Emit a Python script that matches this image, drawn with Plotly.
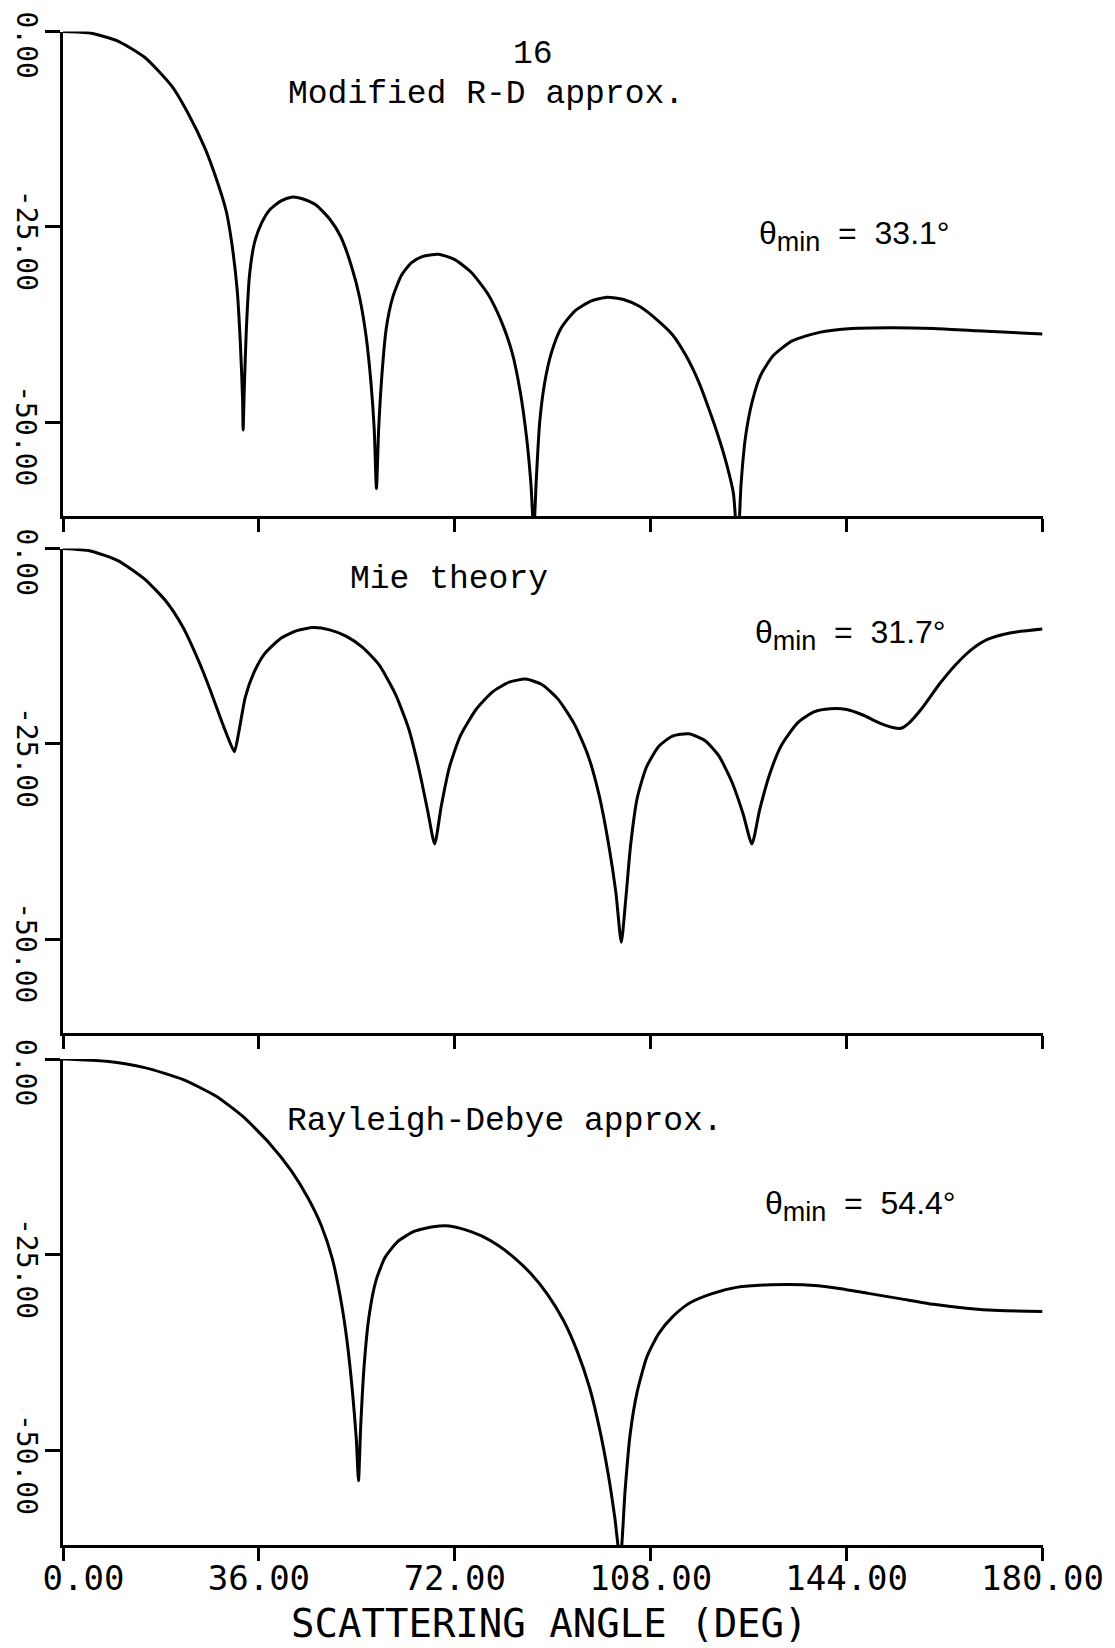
import plotly.graph_objects as go

W, H = 1115, 1648

# ---------------- data ----------------
# Modified R-D approx. (top panel), angle in degrees, level in dB
mrd_angle = [0, 5, 10, 15, 20, 23, 26, 28, 30, 31, 32, 32.6, 33.0, 33.1,
             33.3, 33.7, 34.3, 35.2, 36.5, 38, 40, 42, 44, 46.5, 49, 51, 53, 54.5, 55.7, 56.6, 57.2, 57.6,
             58.0, 58.6, 59.4, 60.6, 62.2, 64, 66, 69, 72, 75, 78, 80.5, 82.5, 84, 85.2, 86.0, 86.5,
             87.0, 87.6, 88.5, 89.8, 91.5, 94, 97, 100, 103, 106, 109, 112, 114.5, 116.8, 118.8, 120.7,
             122.0, 123.2, 124.0,
             124.6, 125.4, 126.6, 128.2, 130.5, 134, 139, 145, 152, 160, 168, 180]
mrd_db = [0, -0.2, -1.2, -3.3, -7.0, -10.5, -14.8, -18.5, -23, -27, -33, -40, -47, -51,
          -46, -38, -31, -27, -24.5, -22.8, -21.7, -21.2, -21.4, -22.2, -24.0, -26.2, -30, -34, -39, -45, -51, -58.5,
          -51, -44, -38, -34, -31.2, -29.6, -28.8, -28.5, -29.2, -30.8, -33.5, -37, -41, -46, -52, -58, -64,
          -57, -50, -45, -41, -38, -35.8, -34.5, -34.0, -34.3, -35.2, -36.8, -38.8, -41.5, -44.8, -48.5, -52.4,
          -55.5, -59.1, -66,
          -58, -52, -47.5, -44, -41.5, -39.6, -38.5, -38.0, -37.9, -38.0, -38.3, -38.7]

# Mie theory (middle panel)
mie_angle = [0, 5, 10, 15, 19, 22, 25, 27, 29, 30.5, 31.5,
             32.3, 33.5, 35, 37, 40, 43, 46, 49, 52, 55, 58, 61, 63.5, 65.5, 67, 68.3,
             69.5, 71, 73, 76, 79, 82, 85, 88, 91, 94, 96.5, 98.5, 100.3, 101.6, 102.6,
             103.4, 104.3, 105.5, 107.2, 109.5, 112, 115, 118, 120.5, 123, 125, 126.6,
             128, 129.8, 132, 135, 138, 141, 144, 147, 150, 152.5, 154,
             155.5, 158, 161, 164, 167, 170, 174, 180]
mie_db = [0, -0.3, -1.5, -3.9, -6.8, -10, -14.5, -18, -21.8, -24.5, -26,
          -23.5, -19, -16, -13.5, -11.5, -10.5, -10.1, -10.4, -11.2, -12.6, -14.8, -18.5, -23, -28.5, -33.5, -37.8,
          -33, -28, -24, -20.5, -18.3, -17.1, -16.7, -17.4, -19.3, -22.5, -26.5, -31.5, -38, -44, -50.4,
          -45, -38, -32, -28, -25.3, -24.0, -23.7, -24.6, -26.5, -30, -34, -37.8,
          -33.5, -29, -25.2, -22.3, -20.9, -20.5, -20.6, -21.3, -22.3, -22.9, -23.0,
          -22.3, -20.3, -17.4, -14.9, -12.9, -11.6, -10.8, -10.3]

# Rayleigh-Debye approx. (bottom panel)
rd_angle = [0, 8, 15, 22, 28, 33, 38, 42, 45, 47.5, 49.5, 51, 52.2, 53.2, 53.9, 54.3,
            54.7, 55.3, 56.2, 57.5, 59.2, 61.5, 64.5, 68, 71, 74, 77, 80, 83, 86, 89, 92, 94.5,
            96.8, 98.7, 100.2, 101.4, 102.4,
            103.3, 104.2, 105.5, 107.3, 109.5, 112, 115, 119, 124, 130, 136, 142, 148, 154,
            160, 166, 172, 180]
rd_db = [0, -0.3, -1.1, -2.6, -4.7, -7.3, -10.8, -14.3, -17.7, -21.3, -25.5, -30.5, -36, -42.5, -48.5, -53.8,
         -47, -39.5, -33, -28.3, -25.3, -23.3, -22.0, -21.4, -21.3, -21.8, -22.6, -23.8, -25.4, -27.4, -30.0, -33.4, -37.3,
         -42, -47.5, -53, -58.5, -64,
         -55, -48, -42.5, -38, -35, -32.9, -31.2, -30.0, -29.1, -28.8, -28.8, -29.2, -29.9, -30.6,
         -31.3, -31.8, -32.1, -32.2]

x_tickvals = [0, 36, 72, 108, 144, 180]
x_ticktext = ["\u00a0\u00a00.00", "36.00", "72.00", "108.00", "144.00", "180.00"]
y_tickvals = [0, -25, -50]
y_ticktext = ["0.00", "-25.00", "-50.00"]

panel_labels = ["Modified R-D approx.", "Mie theory", "Rayleigh-Debye approx."]
theta_values = ["33.1°", "31.7°", "54.4°"]
x_title = "SCATTERING ANGLE (DEG)"
fig_number = "16"

# ---------------- figure ----------------
fig = go.Figure()
series = [(mrd_angle, mrd_db), (mie_angle, mie_db), (rd_angle, rd_db)]
for i, (xa, ya) in enumerate(series):
    fig.add_trace(go.Scatter(x=xa, y=ya, mode="lines",
                             line=dict(color="black", width=3, shape="spline", smoothing=0.6),
                             xaxis="x" if i == 0 else f"x{i+1}",
                             yaxis="y" if i == 0 else f"y{i+1}",
                             showlegend=False, hoverinfo="skip"))


def py(p):
    return 1 - p / H


def px(p):
    return p / W


xdom = [px(63), px(1042.5)]
ydoms = [[py(516), py(31.5)], [py(1033), py(548.6)], [py(1545), py(1059)]]

tickfont_x = dict(family="DejaVu Sans Mono", size=34, color="black")
tickfont_y = dict(family="DejaVu Sans Mono", size=28, color="black")

layout = dict(width=W, height=H, margin=dict(l=0, r=0, t=0, b=0, autoexpand=False),
              template="none",
              paper_bgcolor="white", plot_bgcolor="white")
for i in range(3):
    sfx = "" if i == 0 else str(i + 1)
    layout["xaxis" + sfx] = dict(domain=xdom, range=[0, 180], anchor="y" + sfx, automargin=False,
                                 tickvals=x_tickvals, ticktext=x_ticktext,
                                 showticklabels=(i == 2), tickfont=tickfont_x,
                                 ticklabelstandoff=-12,
                                 ticks="outside", ticklen=13, tickwidth=3, tickcolor="black",
                                 showline=True, linewidth=3, linecolor="black",
                                 showgrid=False, zeroline=False, fixedrange=True)
    layout["yaxis" + sfx] = dict(domain=ydoms[i], range=[-62, 0], anchor="x" + sfx, automargin=False,
                                 tickvals=y_tickvals, showticklabels=False,
                                 ticks="outside", ticklen=15, tickwidth=3, tickcolor="black",
                                 showline=True, linewidth=3, linecolor="black",
                                 showgrid=False, zeroline=False, fixedrange=True)
fig.update_layout(**layout)

# rotated y tick labels, placed on each panel's own y axis
for i in range(3):
    yref = "y" if i == 0 else f"y{i+1}"
    for v, t in zip(y_tickvals, y_ticktext):
        fig.add_annotation(text=t, x=px(26), xref="paper", y=v, yref=yref,
                           textangle=90, yshift=-13, showarrow=False,
                           xanchor="center", yanchor="middle", font=tickfont_y)

label_font = dict(family="Liberation Mono", size=33, color="black")
theta_font = dict(family="Liberation Sans", size=32, color="black")


def theta_text(val):
    return "θ<sub><span style='font-size:27px'>min</span></sub>  =  " + val


annos = [
    dict(text=fig_number, x=px(533), y=py(54), font=label_font, xanchor="center", yanchor="middle"),
    dict(text=panel_labels[0], x=px(486), y=py(94), font=label_font, xanchor="center", yanchor="middle"),
    dict(text=panel_labels[1], x=px(449), y=py(580), font=label_font, xanchor="center", yanchor="middle"),
    dict(text=panel_labels[2], x=px(505), y=py(1121), font=label_font, xanchor="center", yanchor="middle"),
    dict(text=theta_text(theta_values[0]), x=px(757), y=py(236), font=theta_font, xanchor="left", yanchor="middle"),
    dict(text=theta_text(theta_values[1]), x=px(753), y=py(635), font=theta_font, xanchor="left", yanchor="middle"),
    dict(text=theta_text(theta_values[2]), x=px(763), y=py(1206), font=theta_font, xanchor="left", yanchor="middle"),
    dict(text=x_title, x=px(549), y=0.0, xanchor="center", yanchor="bottom",
         font=dict(family="DejaVu Sans Mono", size=39, color="black")),
]
for a in annos:
    a.update(xref="paper", yref="paper", showarrow=False)
    fig.add_annotation(**a)

fig.write_html("out.html", config={"displayModeBar": False})
